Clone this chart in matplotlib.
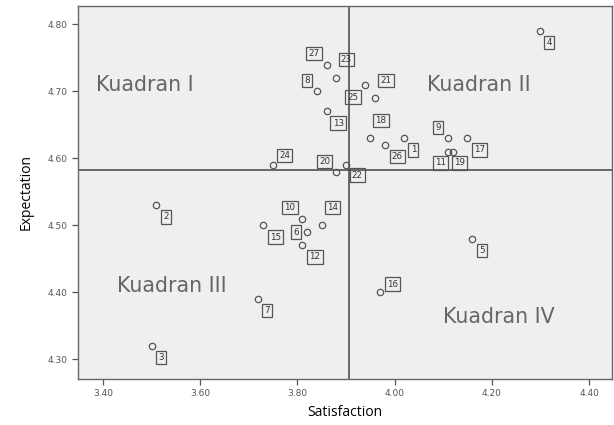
import matplotlib
matplotlib.use("Agg")
import matplotlib.pyplot as plt
import numpy as np

ids = list(range(1, 28))
satisfaction = [4.02, 3.51, 3.50, 4.30, 4.16, 3.82, 3.72, 3.84, 4.11, 3.81,
                4.11, 3.81, 3.86, 3.85, 3.73, 3.97, 4.15, 3.95, 4.12, 3.88,
                3.96, 3.90, 3.88, 3.75, 3.94, 3.98, 3.86]
expectation = [4.63, 4.53, 4.32, 4.79, 4.48, 4.49, 4.39, 4.70, 4.63, 4.51,
               4.61, 4.47, 4.67, 4.50, 4.50, 4.40, 4.63, 4.63, 4.61, 4.58,
               4.69, 4.59, 4.72, 4.59, 4.71, 4.62, 4.74]
x_ticks = [3.40, 3.60, 3.80, 4.00, 4.20, 4.40]
y_ticks = [4.30, 4.40, 4.50, 4.60, 4.70, 4.80]
quadrants = ["Kuadran I", "Kuadran II", "Kuadran III", "Kuadran IV"]

# label offsets in pixels (dx right, dy up)
offsets = {1: (9, -11.6), 2: (9.3, -11.7), 3: (9.7, -11.7), 4: (9, -11.3),
           5: (9.7, -11.7), 6: (-11, 0), 7: (9, -11.6), 8: (-9.6, 10.7),
           9: (-10, 11), 10: (-12.3, 11), 11: (-7.3, -11.3), 12: (12.7, -11.4),
           13: (11.6, -11.7), 14: (10.6, 17.6), 15: (12.3, -11.7),
           16: (12.3, 8.4), 17: (12, -11.6), 18: (10.7, 17.7), 19: (6.7, -11.3),
           20: (-11.7, 10.3), 21: (10.7, 17.7), 22: (11.3, -10), 23: (10, 18.7),
           24: (11.7, 9.3), 25: (-12.4, -12.4), 26: (12.4, -11.7), 27: (-12.4, 11)}

fig = plt.figure(figsize=(6.14, 4.25), dpi=100)
ax = fig.add_axes([0.1265, 0.109, 0.870, 0.877])
ax.set_facecolor("#efefef")

mx = np.mean(satisfaction)
my = np.mean(expectation)
ax.axvline(mx, color="#444444", lw=1.1, zorder=1)
ax.axhline(my, color="#444444", lw=1.1, zorder=1)

ax.plot(satisfaction, expectation, linestyle="none", marker="o", ms=4.6,
        mfc="none", mec="#555555", mew=0.9, zorder=3)

for i, xv, yv in zip(ids, satisfaction, expectation):
    dx, dy = offsets[i]
    ax.annotate(str(i), (xv, yv), xytext=(dx, dy), textcoords="offset pixels",
                ha="center", va="center", fontsize=6.3, color="#333333",
                bbox=dict(boxstyle="square,pad=0.25", fc="none", ec="#555555", lw=0.9),
                zorder=4)

qpos = [(3.386, 4.71), (4.067, 4.71), (3.428, 4.41), (4.10, 4.363)]
for t, (qx, qy) in zip(quadrants, qpos):
    ax.text(qx, qy, t, fontsize=14.8, color="#666666", ha="left", va="center")

ax.set_xlim(3.348, 4.447)
ax.set_ylim(4.2713, 4.8274)
ax.set_xticks(x_ticks)
ax.set_xticklabels([f"{v:.2f}" for v in x_ticks])
ax.set_yticks(y_ticks)
ax.set_yticklabels([f"{v:.2f}" for v in y_ticks])
ax.tick_params(axis="both", labelsize=6.5, labelcolor="#555555", color="#555555",
               length=4, width=0.9, direction="out")
for s in ax.spines.values():
    s.set_color("#666666")
    s.set_linewidth(1.0)

ax.set_xlabel("Satisfaction", fontsize=10, labelpad=5, family="Open Sans")
ax.set_ylabel("Expectation", fontsize=10, labelpad=10, family="Open Sans")

fig.savefig("out.png", dpi=100, facecolor="white")
